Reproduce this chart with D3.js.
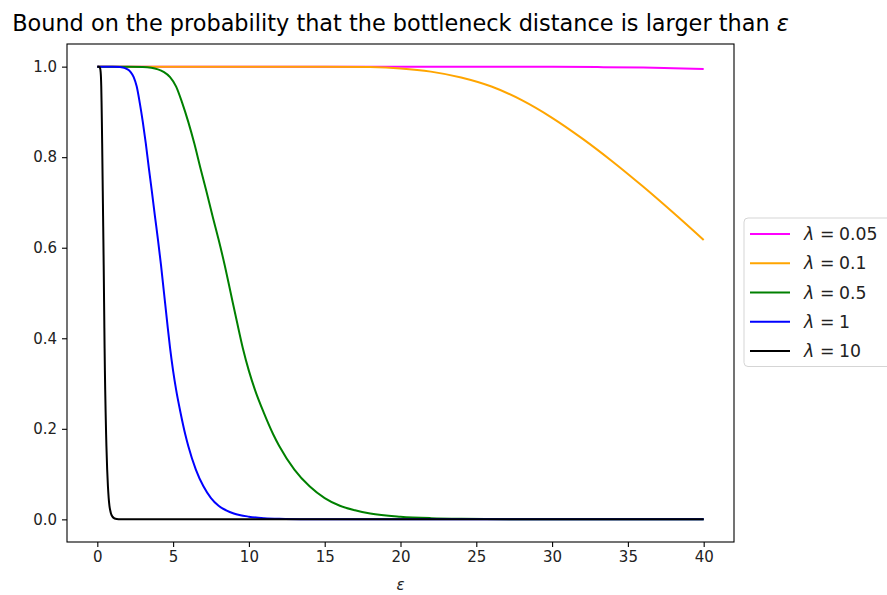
<!DOCTYPE html>
<html>
<head>
<meta charset="utf-8">
<script src="https://cdn.jsdelivr.net/npm/d3@7"></script>
<style>
  html, body { margin: 0; padding: 0; background: #fff; }
  svg { display: block; font-family: "DejaVu Sans", sans-serif; }
</style>
</head>
<body>
<svg id="chart" width="887" height="595"></svg>
<script>
// ---- data ----
const title = "Bound on the probability that the bottleneck distance is larger than ";
const xTicks = [0, 5, 10, 15, 20, 25, 30, 35, 40];
const yTicks = [0.0, 0.2, 0.4, 0.6, 0.8, 1.0];

const lambdaLabels = ["0.05", "0.1", "0.5", "1", "10"];
const seriesColors = ["#ff00ff", "#ffa500", "#008000", "#0000ff", "#000000"];

// λ = 0.05
const epsL005 = [0, 20, 26, 30, 33, 36, 38, 40];
const valL005 = [1, 1, 0.9998, 0.9995, 0.999, 0.998, 0.9966, 0.995];
// λ = 0.1
const epsL01 = [0, 10, 15, 18, 20, 22, 24, 26, 28, 30, 32, 34, 36, 38, 40];
const valL01 = [1, 1, 1, 0.999, 0.996, 0.989, 0.976, 0.956, 0.926, 0.887, 0.841, 0.79, 0.735, 0.677, 0.617];
// λ = 0.5
const epsL05 = [0, 2, 3, 4, 4.4, 4.8, 5.2, 5.6, 6, 6.4, 6.8, 7.2, 7.6, 8, 8.4, 8.8, 9.2, 9.6, 10, 10.4,
                11, 11.6, 12, 13, 14, 15, 16, 17, 18, 20, 22, 24, 28, 32, 40];
const valL05 = [1, 1, 0.999, 0.994, 0.988, 0.977, 0.956, 0.92, 0.878, 0.83, 0.776, 0.724, 0.67, 0.618, 0.562, 0.5, 0.438, 0.378, 0.328, 0.286,
                0.234, 0.188, 0.162, 0.11, 0.073, 0.047, 0.03, 0.02, 0.013, 0.006, 0.0027, 0.0012, 0.0002, 0, 0];
// λ = 1
const epsL1 = [0, 1, 1.5, 2, 2.2, 2.4, 2.6, 2.8, 3, 3.2, 3.4, 3.6, 3.8, 4, 4.2, 4.4, 4.6, 4.8, 5, 5.2,
               5.5, 5.8, 6, 6.5, 7, 7.5, 8, 8.5, 9, 10, 11, 12, 14, 16, 40];
const valL1 = [1, 1, 0.999, 0.994, 0.988, 0.977, 0.956, 0.92, 0.878, 0.83, 0.776, 0.724, 0.67, 0.618, 0.562, 0.5, 0.438, 0.378, 0.328, 0.286,
               0.234, 0.188, 0.162, 0.11, 0.073, 0.047, 0.03, 0.02, 0.013, 0.006, 0.0027, 0.0012, 0.0002, 0, 0];
// λ = 10
const epsL10 = [0, 0.1, 0.15, 0.2, 0.22, 0.24, 0.26, 0.28, 0.3, 0.32, 0.34, 0.36, 0.38, 0.4, 0.42, 0.44, 0.46, 0.48, 0.5, 0.52,
                0.55, 0.58, 0.6, 0.65, 0.7, 0.75, 0.8, 0.85, 0.9, 1.0, 1.1, 1.2, 1.4, 1.6, 40];
const valL10 = [1, 1, 0.999, 0.994, 0.988, 0.977, 0.956, 0.92, 0.878, 0.83, 0.776, 0.724, 0.67, 0.618, 0.562, 0.5, 0.438, 0.378, 0.328, 0.286,
                0.234, 0.188, 0.162, 0.11, 0.073, 0.047, 0.03, 0.02, 0.013, 0.006, 0.0027, 0.0012, 0.0002, 0, 0];

const seriesEps = [epsL005, epsL01, epsL05, epsL1, epsL10];
const seriesVal = [valL005, valL01, valL05, valL1, valL10];

// ---- drawing ----
(function () {
  const svg = d3.select("#chart");
  const axL = 67, axR = 734, axT = 44, axB = 542;
  const tickFont = 15, titleFont = 22.4, legendFont = 17.3;

  const x = d3.scaleLinear().domain([-2, 42]).range([axL, axR]);
  const y = d3.scaleLinear().domain([-0.05, 1.05]).range([axB, axT]);

  svg.append("rect").attr("x", 0).attr("y", 0).attr("width", 887).attr("height", 595).attr("fill", "#fff");

  const line = d3.line()
    .x(d => x(d[0]))
    .y(d => y(d[1]))
    .curve(d3.curveMonotoneX);

  const plot = svg.append("g");
  seriesEps.forEach((eps, i) => {
    const pts = eps.map((e, j) => [e, seriesVal[i][j]]);
    plot.append("path")
      .datum(pts)
      .attr("d", line)
      .attr("fill", "none")
      .attr("stroke", seriesColors[i])
      .attr("stroke-width", 2)
      .attr("stroke-linejoin", "round")
      .attr("stroke-linecap", "butt");
  });

  const xAxis = d3.axisBottom(x).tickValues(xTicks).tickFormat(d3.format("d")).tickSize(5).tickPadding(4);
  const yAxis = d3.axisLeft(y).tickValues(yTicks).tickFormat(d3.format(".1f")).tickSize(5).tickPadding(5);

  const gx = svg.append("g").attr("transform", `translate(0,${axB})`).call(xAxis);
  const gy = svg.append("g").attr("transform", `translate(${axL},0)`).call(yAxis);
  [gx, gy].forEach(g => {
    g.select(".domain").remove();
    g.selectAll(".tick line").attr("stroke", "#000").attr("stroke-width", 1.1);
    g.selectAll(".tick text").attr("fill", "#222").style("font-size", tickFont + "px").style("font-family", "DejaVu Sans");
  });

  svg.append("rect")
    .attr("x", axL).attr("y", axT)
    .attr("width", axR - axL).attr("height", axB - axT)
    .attr("fill", "none").attr("stroke", "#000").attr("stroke-width", 1.1);

  const t = svg.append("text")
    .attr("x", (axL + axR) / 2).attr("y", 31)
    .attr("text-anchor", "middle")
    .style("font-size", titleFont + "px")
    .attr("fill", "#000");
  t.append("tspan").text(title);
  t.append("tspan").style("font-style", "italic").text("ε");

  svg.append("text")
    .attr("x", (axL + axR) / 2).attr("y", 590)
    .attr("text-anchor", "middle")
    .style("font-size", tickFont + "px")
    .style("font-style", "italic")
    .attr("fill", "#222")
    .text("ε");

  const lg = svg.append("g");
  const lgX = 744, lgTop = 218, lgBottom = 366.5;
  lg.append("rect")
    .attr("x", lgX).attr("y", lgTop)
    .attr("width", 150).attr("height", lgBottom - lgTop)
    .attr("rx", 4).attr("ry", 4)
    .attr("fill", "#fff").attr("fill-opacity", 0.8)
    .attr("stroke", "#d5d5d5").attr("stroke-width", 1);
  const rowY = d3.scaleLinear().domain([0, 4]).range([234, 351]);
  lambdaLabels.forEach((lab, i) => {
    const yy = rowY(i);
    lg.append("line")
      .attr("x1", 750).attr("x2", 790)
      .attr("y1", yy).attr("y2", yy)
      .attr("stroke", seriesColors[i]).attr("stroke-width", 2);
    const tx = lg.append("text")
      .attr("y", yy).attr("dy", "0.35em")
      .style("font-size", legendFont + "px")
      .attr("fill", "#222");
    tx.append("tspan").attr("x", 804).style("font-style", "italic").text("λ");
    tx.append("tspan").attr("x", 820).text("=");
    tx.append("tspan").attr("x", 839).text(lab);
  });
})();
</script>
</body>
</html>
